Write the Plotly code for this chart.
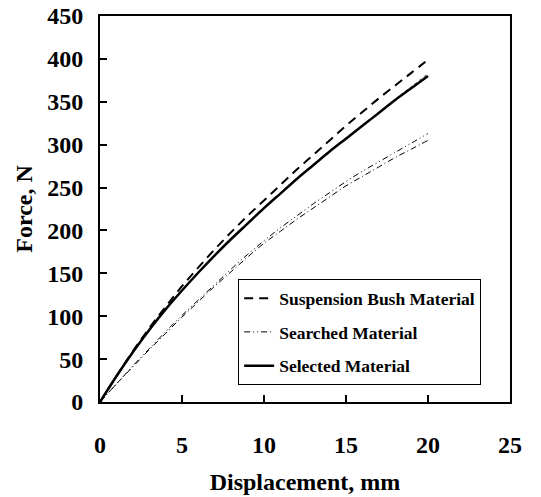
import plotly.graph_objects as go

# Displacement (mm) and force (N) readings for each material
displacement = [0, 1, 2, 3, 4, 5, 6, 7, 8, 9, 10, 11, 12, 13, 14, 15, 16, 17, 18, 19, 20]
bush_force = [0, 30, 59, 86, 111, 135, 157, 178, 198, 217, 235, 253, 271, 288, 305, 322, 338, 354, 369, 384, 399]
searched_force_a = [0, 21, 42, 62, 82, 101, 119, 137, 155, 172, 188, 203, 217, 231, 244, 257, 269, 280, 291, 302, 313]
searched_force_b = [0, 21, 41, 61, 80, 99, 117, 135, 152, 169, 185, 199, 213, 226, 239, 252, 263, 274, 285, 295, 305]
selected_force = [0, 30, 58, 84, 108, 130, 151, 171, 190, 208, 226, 243, 260, 276, 292, 307, 322, 337, 352, 366, 380]
selected_trial = [0, 30, 58, 84, 108, 130, 151, 171, 191, 209, 227, 244, 261, 277, 293, 308, 323, 338, 353, 368, 383]

x_ticks = [0, 5, 10, 15, 20, 25]
y_ticks = [0, 50, 100, 150, 200, 250, 300, 350, 400, 450]

FONT = "Liberation Serif"

fig = go.Figure()
fig.add_trace(go.Scatter(x=displacement, y=selected_trial, mode="lines", line_shape="spline",
                         line=dict(color="#555555", width=1, dash="dot"),
                         showlegend=False))
fig.add_trace(go.Scatter(x=displacement, y=bush_force, mode="lines", line_shape="spline",
                         name="Suspension Bush Material", legendgroup="a",
                         line=dict(color="black", width=2, dash="9px,6px")))
fig.add_trace(go.Scatter(x=displacement, y=searched_force_a, mode="lines", line_shape="spline",
                         name="Searched Material", legendgroup="b",
                         line=dict(color="black", width=1, dash="6px,3px,1px,3px,1px,3px")))
fig.add_trace(go.Scatter(x=displacement, y=searched_force_b, mode="lines", line_shape="spline",
                         showlegend=False,
                         line=dict(color="black", width=1, dash="6px,3px,1px,3px")))
fig.add_trace(go.Scatter(x=displacement, y=selected_force, mode="lines", line_shape="spline",
                         name="Selected Material", legendgroup="c",
                         line=dict(color="black", width=2.5)))

bold = dict(family=FONT, size=24, color="black", weight="bold")
axis_common = dict(showline=True, linecolor="black", linewidth=2, mirror=True,
                   ticks="inside", ticklen=7, tickwidth=2, tickcolor="black",
                   showgrid=False, zeroline=False, tickfont=bold, automargin=False)

fig.update_xaxes(range=[0, 25], tickvals=x_ticks, ticktext=[str(v) for v in x_ticks],
                 ticklabelstandoff=20,
                 title=dict(text="Displacement, mm", font=bold, standoff=16),
                 **axis_common)
fig.update_yaxes(range=[0, 450], tickvals=y_ticks, ticktext=[str(v) for v in y_ticks],
                 ticklabelstandoff=10,
                 title=dict(text="Force, N", font=bold, standoff=8),
                 **axis_common)

fig.update_layout(
    width=541, height=497,
    margin=dict(l=100, r=31, t=16, b=95),
    plot_bgcolor="white", paper_bgcolor="white",
    font=dict(family=FONT, color="black"),
    legend=dict(x=0.337, y=0.318, xanchor="left", yanchor="top",
                bordercolor="black", borderwidth=1, bgcolor="white",
                font=dict(family=FONT, size=17.5, color="black", weight="bold"),
                tracegroupgap=8, itemwidth=30),
)

fig.write_html("out.html")
